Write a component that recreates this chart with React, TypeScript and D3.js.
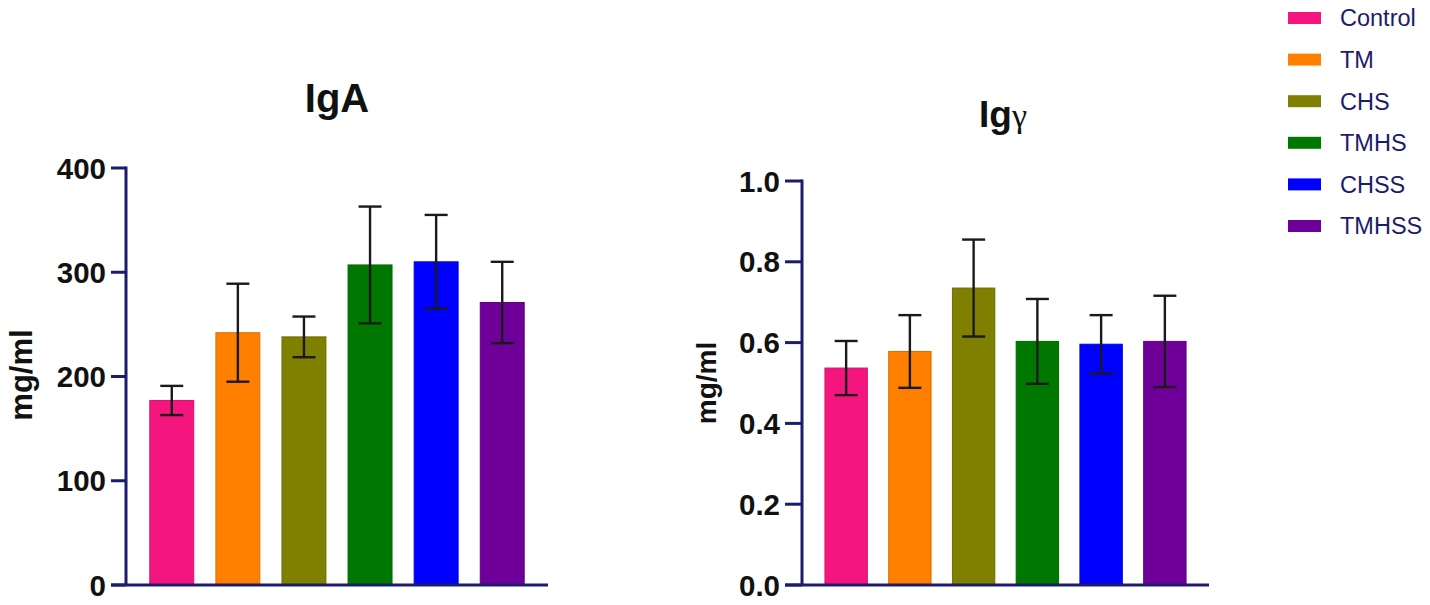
import * as d3 from "d3";

const groups = ["Control", "TM", "CHS", "TMHS", "CHSS", "TMHSS"];
const colors = ["#f5157f", "#ff8000", "#7f7f00", "#007800", "#0000ff", "#6e0099"];

// IgA, mg/ml (mean and error)
const igaMean = [177, 242, 238, 307, 310, 271];
const igaErr = [14, 47, 19.5, 56, 45, 39];
const igaTicks = [0, 100, 200, 300, 400];

// Igγ, mg/ml
const iggMean = [0.537, 0.578, 0.735, 0.603, 0.596, 0.603];
const iggErr = [0.067, 0.09, 0.12, 0.105, 0.072, 0.113];
const iggTicks = [0, 0.2, 0.4, 0.6, 0.8, 1.0];

const AXIS = "#1c1c6c";
const FONT = "'Liberation Sans', Arial, sans-serif";

type PanelProps = {
  mean: number[];
  err: number[];
  ticks: number[];
  max: number;
  fmt: (v: number) => string;
  x0: number;
  x1: number;
  yTop: number;
  yBottom: number;
  tickLen: number;
  labelX: number;
  labelY: number;
  labelSize: number;
  title: React.ReactNode;
  titleY: number;
  titleX: number;
};

const Panel = (p: PanelProps) => {
  const x = d3.scaleBand<string>().domain(groups).range([p.x0, p.x1]).paddingInner(0.335).paddingOuter(0.36);
  const y = d3.scaleLinear().domain([0, p.max]).range([p.yBottom, p.yTop]);
  const cap = 11.5;

  return (
    <g>
      {/* bars */}
      {groups.map((g, i) => (
        <rect
          key={g}
          x={x(g)}
          y={y(p.mean[i])}
          width={x.bandwidth()}
          height={y(0) - y(p.mean[i])}
          fill={colors[i]}
          stroke={d3.color(colors[i])!.darker(0.4).toString()}
          strokeWidth={1}
        />
      ))}
      {/* error bars */}
      {groups.map((g, i) => {
        const cx = x(g)! + x.bandwidth() / 2;
        const hi = y(p.mean[i] + p.err[i]);
        const lo = y(p.mean[i] - p.err[i]);
        return (
          <g key={g} stroke="#1a1a1a" strokeWidth={2.4}>
            <line x1={cx} x2={cx} y1={hi} y2={lo} />
            <line x1={cx - cap} x2={cx + cap} y1={hi} y2={hi} />
            <line x1={cx - cap} x2={cx + cap} y1={lo} y2={lo} />
          </g>
        );
      })}
      {/* axes */}
      <line x1={p.x0} x2={p.x0} y1={y(p.max) - 1.5} y2={p.yBottom} stroke={AXIS} strokeWidth={3} />
      <line x1={p.x0 - p.tickLen} x2={p.x1} y1={p.yBottom} y2={p.yBottom} stroke={AXIS} strokeWidth={3} />
      {p.ticks.map((t) => (
        <g key={t}>
          <line x1={p.x0 - p.tickLen} x2={p.x0} y1={y(t)} y2={y(t)} stroke={AXIS} strokeWidth={3} />
          <text
            x={p.x0 - p.tickLen - 5}
            y={y(t)}
            dy="0.36em"
            textAnchor="end"
            fontFamily={FONT}
            fontWeight="bold"
            fontSize={29.5}
            fill="#111"
          >
            {p.fmt(t)}
          </text>
        </g>
      ))}
      <text
        transform={`translate(${p.labelX},${p.labelY}) rotate(-90)`}
        textAnchor="middle"
        fontFamily={FONT}
        fontWeight="bold"
        fontSize={p.labelSize}
        fill="#111"
      >
        mg/ml
      </text>
      <text x={p.titleX} y={p.titleY} textAnchor="middle" fontFamily={FONT} fontWeight="bold" fill="#111">
        {p.title}
      </text>
    </g>
  );
};

export default function App() {
  return (
    <svg width={1430} height={605} style={{ position: "absolute", left: 0, top: 0, background: "#fff" }}>
      <Panel
        mean={igaMean}
        err={igaErr}
        ticks={igaTicks}
        max={400}
        fmt={(v) => String(v)}
        x0={126}
        x1={548}
        yTop={168}
        yBottom={585}
        tickLen={15}
        labelX={32}
        labelY={375}
        labelSize={31}
        titleX={337}
        titleY={112}
        title={<tspan fontSize={40}>IgA</tspan>}
      />
      <Panel
        mean={iggMean}
        err={iggErr}
        ticks={iggTicks}
        max={1.0}
        fmt={d3.format(".1f")}
        x0={802}
        x1={1209}
        yTop={181}
        yBottom={585}
        tickLen={17}
        labelX={716}
        labelY={383}
        labelSize={28}
        titleX={1003}
        titleY={127}
        title={
          <>
            <tspan fontSize={37}>Ig</tspan>
            <tspan fontSize={34} fontWeight="normal" fontFamily="'Liberation Serif', serif">γ</tspan>
          </>
        }
      />
      {/* legend */}
      {groups.map((g, i) => (
        <g key={g} transform={`translate(1288, ${18 + i * 41.6})`}>
          <rect x={0} y={-6} width={33} height={12} fill={colors[i]} />
          <text x={52} y={0} dy="0.36em" fontFamily={FONT} fontSize={23.5} fill="#1c1c6c">
            {g}
          </text>
        </g>
      ))}
    </svg>
  );
}
